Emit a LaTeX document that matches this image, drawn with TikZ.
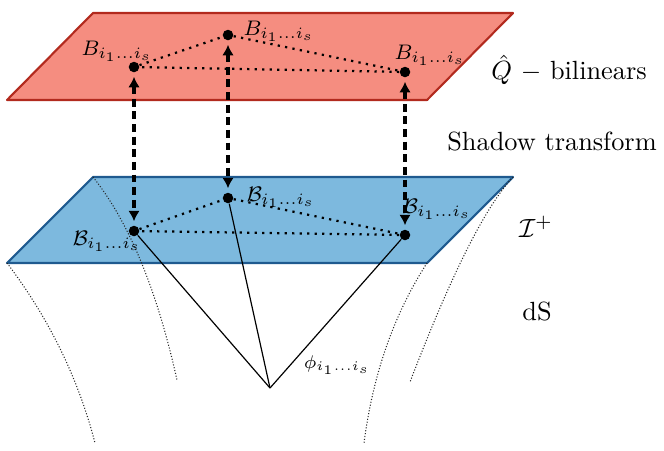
\documentclass[tikz,border=0pt]{standalone}
\usepackage{amsmath,amsfonts,amssymb}
\usepackage{xcolor}
\usepackage{tikz}
\usetikzlibrary{arrows.meta}

\definecolor{bilred}{RGB}{245,141,128}
\definecolor{bilrededge}{RGB}{178,42,30}
\definecolor{scriblue}{RGB}{125,185,222}
\definecolor{scribluedge}{RGB}{31,90,143}

\tikzset{
  pt/.style={circle,fill=black,inner sep=0pt,minimum size=4pt},
  lbl/.style={font=\footnotesize,inner sep=0pt},
  shadowarrow/.style={{Latex[length=4pt,width=4.4pt]}-{Latex[length=4pt,width=4.4pt]},
    line width=1.3pt,dash pattern=on 3pt off 1.8pt,shorten <=1.5pt,shorten >=1.5pt},
  link/.style={dotted,line width=0.85pt},
  ray/.style={line width=0.45pt},
  slice/.style={line width=0.4pt,dash pattern=on 0.4pt off 0.7pt,black!85},
  plane/.style={line width=0.8pt,line join=round},
}

\begin{document}
\begin{tikzpicture}[x=0.1336cm,y=-0.1336cm]
\useasboundingbox (0,0) rectangle (66.4,45);

% future boundary I^+
\coordinate (s1) at (9.3,17.7);
\coordinate (s2) at (51.3,17.7);
\coordinate (s3) at (42.7,26.3);
\coordinate (s4) at (0.7,26.3);
\filldraw[plane,fill=scriblue,draw=scribluedge] (s1) -- (s2) -- (s3) -- (s4) -- cycle;

% de Sitter slices
\draw[slice] (s4) .. controls (4.8,31.7) and (7.8,37.7) .. (9.5,44.3);
\draw[slice] (s1) .. controls (12.9,22.2) and (15.7,29.0) .. (17.7,38.0);
\draw[slice] (s3) .. controls (39.4,31.4) and (37.3,37.4) .. (36.4,44.3);
\draw[slice] (s2) .. controls (48.5,20.7) and (45.1,27.5) .. (41.0,38.2);

% bilinear plane
\coordinate (q1) at (9.3,1.3);
\coordinate (q2) at (51.3,1.3);
\coordinate (q3) at (42.7,10.0);
\coordinate (q4) at (0.7,10.0);
\filldraw[plane,fill=bilred,draw=bilrededge] (q1) -- (q2) -- (q3) -- (q4) -- cycle;

% points
\node[pt] (b1) at (13.4,6.7) {};
\node[pt] (b2) at (22.8,3.5) {};
\node[pt] (b3) at (40.5,7.2) {};
\node[pt] (c1) at (13.4,23.1) {};
\node[pt] (c2) at (22.8,19.8) {};
\node[pt] (c3) at (40.5,23.5) {};
\coordinate (tip) at (27.0,38.8);

\draw[link] (b1) -- (b2) -- (b3) -- (b1);
\draw[link] (c1) -- (c2) -- (c3) -- (c1);

\draw[ray] (c1) -- (tip);
\draw[ray] (c2) -- (tip);
\draw[ray] (c3) -- (tip);

\draw[shadowarrow] (b1) -- (c1);
\draw[shadowarrow] (b2) -- (c2);
\draw[shadowarrow] (b3) -- (c3);

% labels
\node[lbl] (lb1) at (11.7,5.1) {$B_{i_1\ldots i_s}$};
\node[lbl] (lb2) at (27.9,3.1) {$B_{i_1\ldots i_s}$};
\node[lbl] (lb3) at (43.0,5.5) {$B_{i_1\ldots i_s}$};
\node[lbl] (lc1) at (10.7,24.1) {$\mathcal{B}_{i_1\ldots i_s}$};
\node[lbl] (lc2) at (28.1,19.7) {$\mathcal{B}_{i_1\ldots i_s}$};
\node[lbl] (lc3) at (43.7,20.9) {$\mathcal{B}_{i_1\ldots i_s}$};
\node[lbl,font=\scriptsize] (lphi) at (33.7,36.5) {$\phi_{i_1\ldots i_s}$};

\node (qhat) at (56.9,7.0) {$\hat{Q}$ $-$ bilinears};
\node (shad) at (55.2,14.2) {Shadow transform};
\node (scri) at (53.6,22.7) {$\mathcal{I}^+$};
\node (ds) at (53.7,31.1) {dS};
\end{tikzpicture}
\end{document}
